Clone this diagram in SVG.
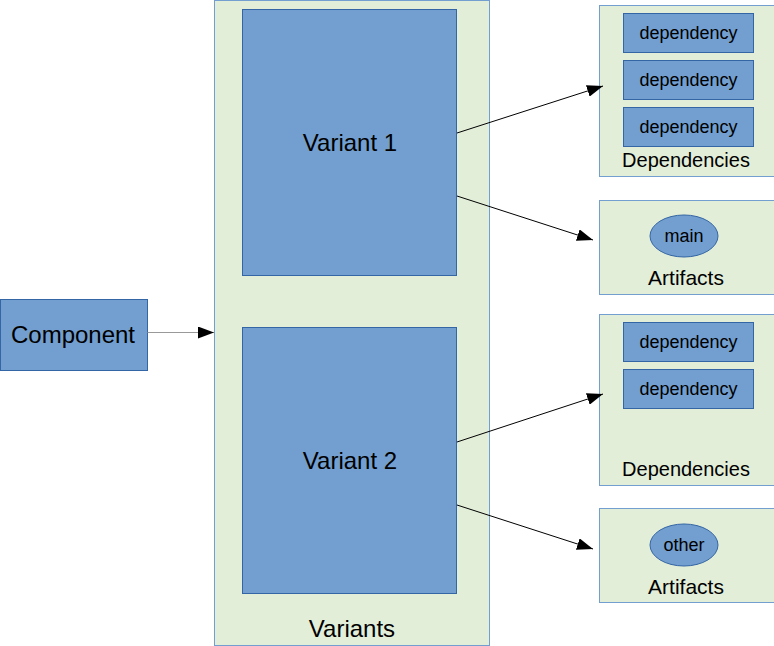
<svg xmlns="http://www.w3.org/2000/svg" width="774" height="646" viewBox="0 0 774 646">
<defs>
<style>
.cont{fill:#e2eed8;stroke:#729fcf;stroke-width:1}
.blue{fill:#729fcf;stroke:#3465a4;stroke-width:1}
.t{font-family:"Liberation Sans",Arial,sans-serif;fill:#000;text-anchor:middle}
.big{font-size:24px}
.mid{font-size:20px}
.art{font-size:21px}
.sm{font-size:18px}
.edge{stroke:#000;stroke-width:1;fill:none}
</style>
<marker id="ah" viewBox="0 0 16 12" refX="16" refY="6" markerWidth="16" markerHeight="12" markerUnits="userSpaceOnUse" orient="auto">
<path d="M0,0 L16,6 L0,12 Z" fill="#000"/>
</marker>
</defs>
<g id="variants">
<rect class="cont" x="214.5" y="0.5" width="275" height="645"/>
<text class="t big" x="352" y="637">Variants</text>
</g>
<g id="component">
<rect class="blue" x="0.5" y="299.5" width="147" height="71"/>
<text class="t big" x="73" y="343">Component</text>
</g>
<g id="variant1">
<rect class="blue" x="242.5" y="9.5" width="214" height="266"/>
<text class="t big" x="350" y="151">Variant 1</text>
</g>
<g id="variant2">
<rect class="blue" x="242.5" y="327.5" width="214" height="266"/>
<text class="t big" x="350" y="469">Variant 2</text>
</g>
<g id="deps1">
<rect class="cont" x="599.5" y="5.5" width="180" height="171"/>
<rect class="blue" x="623.5" y="13.5" width="130" height="39"/>
<text class="t sm" x="688.5" y="39">dependency</text>
<rect class="blue" x="623.5" y="60.5" width="130" height="39"/>
<text class="t sm" x="688.5" y="86">dependency</text>
<rect class="blue" x="623.5" y="107.5" width="130" height="39"/>
<text class="t sm" x="688.5" y="133">dependency</text>
<text class="t mid" x="686" y="167">Dependencies</text>
</g>
<g id="artifacts1">
<rect class="cont" x="599.5" y="200.5" width="180" height="94"/>
<ellipse class="blue" cx="684" cy="236" rx="34" ry="21"/>
<text class="t sm" x="684" y="242">main</text>
<text class="t art" x="686" y="285">Artifacts</text>
</g>
<g id="deps2">
<rect class="cont" x="599.5" y="314.5" width="180" height="171"/>
<rect class="blue" x="623.5" y="322.5" width="130" height="39"/>
<text class="t sm" x="688.5" y="348">dependency</text>
<rect class="blue" x="623.5" y="369.5" width="130" height="39"/>
<text class="t sm" x="688.5" y="395">dependency</text>
<text class="t mid" x="686" y="476">Dependencies</text>
</g>
<g id="artifacts2">
<rect class="cont" x="599.5" y="508.5" width="180" height="94"/>
<ellipse class="blue" cx="684" cy="545" rx="34" ry="21"/>
<text class="t sm" x="684" y="551">other</text>
<text class="t art" x="686" y="594">Artifacts</text>
</g>
<g id="connectors">
<line class="edge" x1="147.5" y1="332.5" x2="214" y2="332.5" marker-end="url(#ah)" style="stroke:#999"/>
<line class="edge" x1="457" y1="133" x2="603" y2="86" marker-end="url(#ah)"/>
<line class="edge" x1="457" y1="196" x2="593" y2="240" marker-end="url(#ah)"/>
<line class="edge" x1="457" y1="442" x2="603" y2="394" marker-end="url(#ah)"/>
<line class="edge" x1="457" y1="505" x2="593" y2="549" marker-end="url(#ah)"/>
</g>
</svg>
